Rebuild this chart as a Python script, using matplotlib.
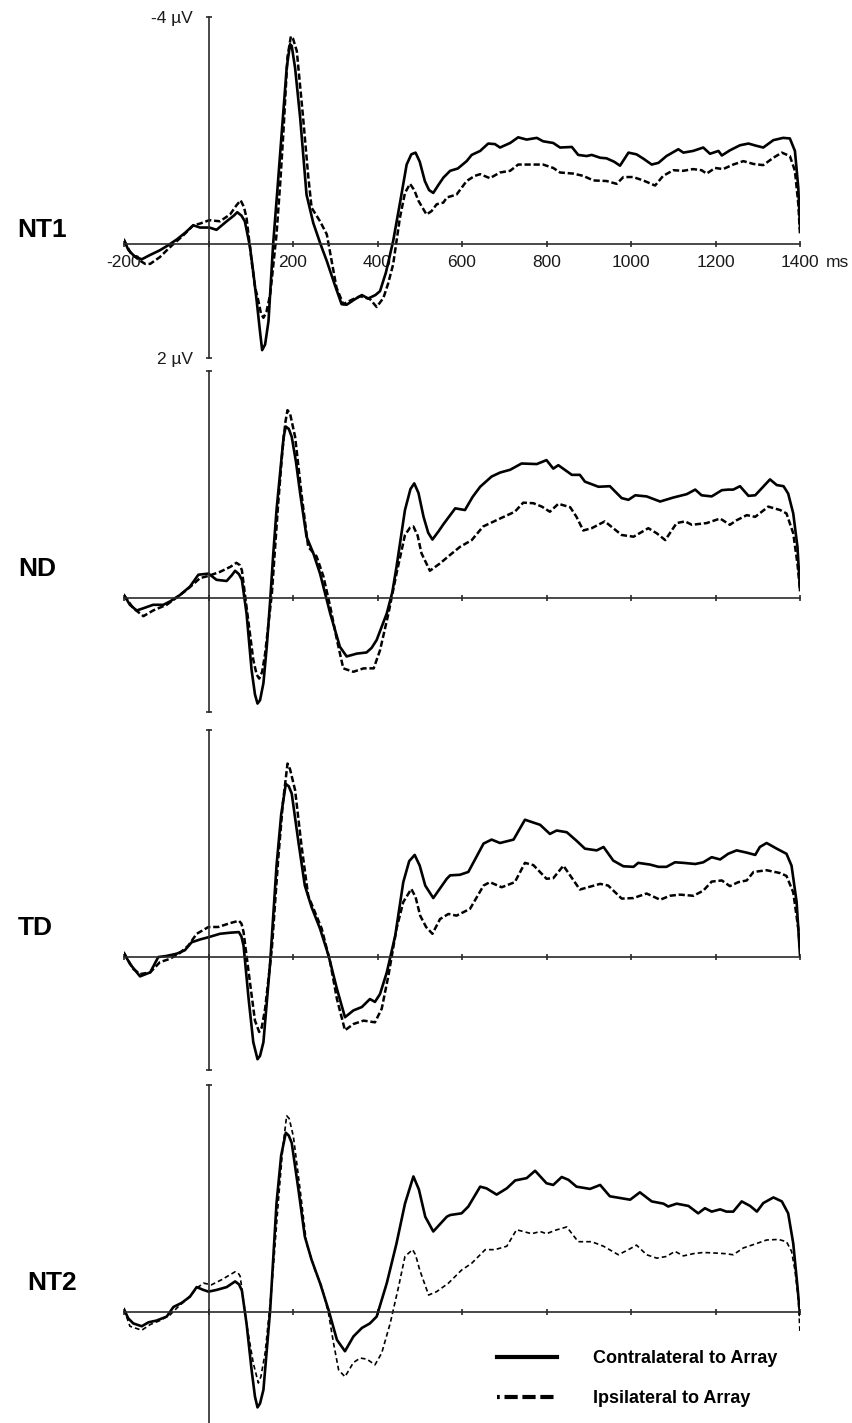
import matplotlib
matplotlib.use("Agg")
from matplotlib import pyplot as plt
from matplotlib.lines import Line2D

plt.rcParams["font.family"] = ["Liberation Sans", "DejaVu Sans"]
plt.rcParams["lines.scale_dashes"] = False

# grand averages, time in ms, amplitude in microvolts (negative plotted up)
nt1_contra_ms = [-200, -190, -175, -158, -140, -115, -95, -75, -55, -36, -20, 2, 19, 43, 60, 68, 78, 86, 98, 106,
                 114, 122, 127, 134, 142, 153, 163, 173, 185, 193, 197, 205, 217, 232, 248, 265, 280, 298, 315, 327,
                 345, 363, 378, 395, 406, 420, 437, 455, 469, 480, 490, 500, 512, 522, 532, 545, 556, 572, 590, 611,
                 623, 643, 662, 678, 690, 714, 733, 753, 777, 792, 816, 832, 860, 875, 895, 907, 927, 942, 960, 974,
                 994, 1013, 1030, 1049, 1065, 1084, 1112, 1124, 1147, 1171, 1187, 1207, 1215, 1234, 1258, 1278, 1297,
                 1313, 1337, 1360, 1376, 1388, 1396, 1400]
nt1_contra_uv = [-0.07, 0.10, 0.22, 0.27, 0.20, 0.11, 0.02, -0.08, -0.20, -0.33, -0.29, -0.29, -0.25, -0.40, -0.50,
                 -0.56, -0.50, -0.40, 0.04, 0.50, 1.00, 1.55, 1.87, 1.77, 1.36, 0.00, -0.95, -1.93, -3.10, -3.52,
                 -3.49, -3.10, -2.22, -0.87, -0.37, 0.00, 0.30, 0.70, 1.06, 1.07, 0.98, 0.90, 0.96, 0.90, 0.83, 0.50,
                 -0.05, -0.80, -1.40, -1.58, -1.61, -1.45, -1.11, -0.95, -0.90, -1.05, -1.17, -1.29, -1.33, -1.46,
                 -1.57, -1.64, -1.77, -1.76, -1.70, -1.78, -1.88, -1.84, -1.87, -1.81, -1.78, -1.70, -1.71, -1.57,
                 -1.55, -1.57, -1.52, -1.51, -1.45, -1.38, -1.61, -1.58, -1.50, -1.40, -1.43, -1.55, -1.67, -1.61,
                 -1.64, -1.70, -1.59, -1.64, -1.56, -1.65, -1.74, -1.77, -1.73, -1.70, -1.83, -1.87, -1.86, -1.64,
                 -0.99, -0.29]
nt1_ipsi_ms = [-200, -185, -165, -150, -138, -115, -100, -83, -60, -36, -20, 2, 27, 51, 66, 76, 84, 90, 102, 110,
               118, 124, 130, 137, 146, 153, 161, 170, 177, 187, 195, 200, 209, 224, 236, 244, 264, 280, 303, 319,
               340, 359, 382, 398, 414, 425, 437, 453, 465, 477, 487, 497, 516, 528, 540, 556, 564, 587, 611, 630,
               643, 666, 690, 714, 733, 761, 792, 816, 832, 864, 887, 911, 942, 966, 982, 1005, 1029, 1057, 1076,
               1100, 1124, 1147, 1167, 1179, 1199, 1218, 1242, 1266, 1290, 1313, 1337, 1357, 1376, 1388, 1396, 1400]
nt1_ipsi_uv = [-0.07, 0.15, 0.28, 0.35, 0.35, 0.23, 0.12, 0.00, -0.15, -0.33, -0.36, -0.42, -0.40, -0.52, -0.68,
               -0.77, -0.65, -0.46, 0.30, 0.75, 1.00, 1.22, 1.30, 1.20, 0.89, 0.40, -0.17, -1.10, -1.93, -3.30,
               -3.66, -3.62, -3.40, -2.22, -1.20, -0.64, -0.40, -0.17, 0.77, 1.06, 0.98, 0.92, 0.97, 1.11, 0.95,
               0.70, 0.36, -0.46, -0.90, -1.06, -0.95, -0.76, -0.52, -0.58, -0.70, -0.73, -0.82, -0.87, -1.11,
               -1.20, -1.23, -1.16, -1.26, -1.29, -1.40, -1.40, -1.40, -1.34, -1.26, -1.24, -1.20, -1.12, -1.11,
               -1.06, -1.18, -1.18, -1.12, -1.03, -1.20, -1.30, -1.29, -1.32, -1.30, -1.24, -1.34, -1.32, -1.40,
               -1.46, -1.41, -1.39, -1.52, -1.61, -1.55, -1.29, -0.70, -0.17]

nd_contra_ms = [-200, -186, -170, -154, -131, -107, -91, -68, -44, -24, 0, 19, 43, 55, 63, 72, 79, 90, 102, 110,
                116, 122, 130, 138, 146, 153, 161, 172, 178, 183, 190, 197, 207, 217, 232, 248, 264, 288, 311, 327,
                351, 374, 386, 398, 422, 435, 445, 465, 478, 487, 497, 509, 520, 530, 545, 556, 584, 607, 625, 643,
                670, 690, 714, 741, 777, 800, 816, 828, 860, 879, 891, 923, 950, 978, 994, 1010, 1037, 1069, 1100,
                1132, 1152, 1167, 1191, 1215, 1230, 1242, 1258, 1278, 1294, 1329, 1345, 1361, 1372, 1384, 1394, 1400]
nd_contra_uv = [-0.05, 0.12, 0.22, 0.18, 0.12, 0.12, 0.06, -0.05, -0.20, -0.41, -0.43, -0.32, -0.30, -0.40, -0.48,
                -0.42, -0.32, 0.27, 1.27, 1.70, 1.86, 1.80, 1.50, 0.85, 0.04, -0.75, -1.55, -2.40, -2.85, -3.02,
                -2.98, -2.84, -2.40, -1.84, -1.08, -0.79, -0.43, 0.27, 0.86, 1.03, 0.98, 0.96, 0.88, 0.74, 0.27,
                -0.10, -0.55, -1.55, -1.92, -2.02, -1.85, -1.43, -1.15, -1.03, -1.18, -1.30, -1.58, -1.55, -1.78,
                -1.96, -2.14, -2.21, -2.26, -2.37, -2.36, -2.43, -2.28, -2.34, -2.17, -2.17, -2.05, -1.96, -1.97,
                -1.76, -1.73, -1.81, -1.79, -1.70, -1.77, -1.83, -1.91, -1.81, -1.79, -1.90, -1.91, -1.91, -1.97,
                -1.80, -1.81, -2.09, -1.99, -1.97, -1.84, -1.49, -0.90, -0.14]
nd_ipsi_ms = [-200, -178, -154, -131, -99, -75, -52, -20, 0, 27, 52, 66, 74, 79, 94, 106, 114, 120, 127, 134, 150,
              165, 175, 182, 187, 193, 205, 220, 236, 256, 272, 288, 304, 319, 343, 367, 391, 406, 426, 445, 465,
              477, 485, 495, 504, 524, 548, 572, 595, 623, 650, 690, 725, 745, 769, 789, 808, 828, 856, 871, 887,
              907, 938, 958, 978, 1006, 1041, 1061, 1081, 1108, 1128, 1144, 1179, 1211, 1234, 1250, 1274, 1294,
              1325, 1353, 1368, 1384, 1394, 1400]
nd_ipsi_uv = [-0.05, 0.18, 0.32, 0.22, 0.12, -0.01, -0.14, -0.35, -0.39, -0.46, -0.55, -0.62, -0.58, -0.49, 0.39,
              1.09, 1.35, 1.42, 1.30, 0.98, -0.08, -1.67, -2.60, -3.10, -3.31, -3.25, -2.84, -1.84, -0.90, -0.73,
              -0.38, 0.15, 0.74, 1.24, 1.30, 1.24, 1.24, 0.92, 0.27, -0.43, -1.11, -1.24, -1.26, -1.10, -0.79,
              -0.48, -0.61, -0.76, -0.90, -1.02, -1.26, -1.40, -1.52, -1.68, -1.67, -1.61, -1.52, -1.66, -1.60,
              -1.43, -1.19, -1.23, -1.35, -1.23, -1.11, -1.08, -1.23, -1.14, -1.02, -1.32, -1.35, -1.29, -1.32,
              -1.40, -1.29, -1.37, -1.46, -1.43, -1.61, -1.55, -1.49, -1.14, -0.60, -0.14]

td_contra_ms = [-200, -186, -162, -138, -119, -99, -75, -56, -40, -20, 0, 27, 52, 72, 78, 83, 95, 106, 116, 122,
                130, 146, 161, 172, 183, 190, 197, 213, 228, 244, 264, 284, 304, 323, 343, 363, 382, 394, 406, 422,
                442, 461, 475, 488, 500, 513, 532, 564, 572, 595, 615, 651, 670, 690, 722, 749, 769, 785, 808, 824,
                848, 871, 891, 919, 935, 958, 982, 1006, 1017, 1045, 1065, 1084, 1104, 1124, 1152, 1171, 1191, 1211,
                1230, 1250, 1274, 1294, 1305, 1321, 1345, 1368, 1380, 1392, 1400]
td_contra_uv = [-0.06, 0.13, 0.35, 0.28, 0.01, -0.01, -0.05, -0.11, -0.25, -0.30, -0.34, -0.40, -0.42, -0.43, -0.35,
                -0.19, 0.75, 1.51, 1.81, 1.75, 1.51, 0.10, -1.60, -2.50, -3.04, -3.00, -2.87, -2.01, -1.25, -0.87,
                -0.49, -0.02, 0.57, 1.07, 0.95, 0.89, 0.75, 0.80, 0.66, 0.28, -0.37, -1.31, -1.68, -1.79, -1.60,
                -1.25, -1.03, -1.37, -1.43, -1.44, -1.49, -1.99, -2.06, -2.00, -2.06, -2.41, -2.36, -2.32, -2.16,
                -2.22, -2.19, -2.04, -1.90, -1.87, -1.93, -1.69, -1.59, -1.58, -1.65, -1.62, -1.58, -1.58, -1.66,
                -1.65, -1.63, -1.66, -1.75, -1.71, -1.81, -1.87, -1.83, -1.79, -1.93, -2.00, -1.90, -1.81, -1.60,
                -0.96, -0.02]
td_ipsi_ms = [-200, -178, -162, -138, -115, -91, -68, -48, -28, 0, 23, 52, 72, 78, 83, 98, 110, 120, 126, 134, 150,
              165, 176, 187, 193, 205, 220, 236, 252, 268, 288, 304, 323, 343, 367, 394, 410, 426, 445, 461, 480,
              490, 501, 515, 530, 548, 568, 587, 619, 651, 666, 694, 725, 749, 769, 800, 816, 840, 879, 927, 946,
              978, 1006, 1037, 1069, 1092, 1116, 1148, 1171, 1191, 1215, 1234, 1254, 1274, 1290, 1321, 1353, 1368,
              1384, 1396, 1400]
td_ipsi_uv = [-0.06, 0.22, 0.31, 0.28, 0.10, 0.04, -0.06, -0.19, -0.40, -0.52, -0.52, -0.59, -0.63, -0.58, -0.43,
              0.45, 1.13, 1.33, 1.25, 0.92, -0.14, -1.72, -2.70, -3.40, -3.30, -2.93, -1.96, -1.07, -0.78, -0.49,
              0.10, 0.75, 1.30, 1.19, 1.13, 1.16, 0.92, 0.33, -0.49, -0.96, -1.19, -1.05, -0.72, -0.52, -0.40,
              -0.66, -0.75, -0.72, -0.84, -1.25, -1.31, -1.22, -1.31, -1.65, -1.61, -1.37, -1.38, -1.60, -1.18,
              -1.28, -1.25, -1.02, -1.03, -1.11, -1.00, -1.07, -1.09, -1.07, -1.16, -1.32, -1.34, -1.24, -1.31,
              -1.34, -1.49, -1.52, -1.47, -1.42, -1.13, -0.49, -0.14]

nt2_contra_ms = [-200, -190, -178, -158, -142, -123, -99, -83, -64, -44, -28, -12, 0, 19, 43, 63, 72, 79, 90, 102,
                 110, 116, 122, 130, 146, 161, 172, 183, 190, 197, 213, 228, 244, 264, 284, 304, 323, 343, 363, 382,
                 398, 422, 445, 465, 485, 498, 513, 532, 564, 572, 599, 615, 643, 658, 682, 706, 726, 753, 773, 800,
                 816, 836, 852, 871, 903, 927, 950, 974, 998, 1021, 1049, 1077, 1088, 1108, 1136, 1159, 1175, 1191,
                 1211, 1226, 1242, 1262, 1282, 1298, 1313, 1337, 1357, 1372, 1384, 1394, 1400]
nt2_contra_uv = [-0.04, 0.12, 0.21, 0.26, 0.19, 0.16, 0.09, -0.08, -0.15, -0.26, -0.43, -0.38, -0.35, -0.38, -0.43,
                 -0.53, -0.48, -0.37, 0.21, 1.03, 1.50, 1.69, 1.62, 1.38, -0.03, -1.91, -2.75, -3.15, -3.10, -2.97,
                 -2.14, -1.32, -0.91, -0.50, -0.03, 0.50, 0.70, 0.44, 0.29, 0.21, 0.09, -0.50, -1.20, -1.90, -2.38,
                 -2.15, -1.67, -1.41, -1.67, -1.70, -1.73, -1.85, -2.20, -2.17, -2.06, -2.17, -2.31, -2.35, -2.48,
                 -2.26, -2.23, -2.37, -2.32, -2.20, -2.16, -2.23, -2.03, -2.00, -1.97, -2.10, -1.94, -1.90, -1.85,
                 -1.90, -1.86, -1.73, -1.82, -1.76, -1.80, -1.76, -1.76, -1.94, -1.86, -1.76, -1.91, -2.01, -1.94,
                 -1.73, -1.20, -0.44, 0.06]
nt2_ipsi_ms = [-200, -186, -158, -138, -115, -91, -71, -52, -28, -12, 7, 31, 63, 70, 75, 90, 106, 118, 124, 134,
               150, 165, 176, 185, 191, 201, 217, 232, 252, 268, 284, 296, 308, 323, 343, 359, 375, 394, 410, 430,
               450, 465, 483, 490, 500, 521, 540, 568, 599, 623, 655, 678, 706, 729, 745, 765, 785, 800, 820, 848,
               875, 907, 935, 970, 994, 1013, 1037, 1061, 1084, 1104, 1124, 1148, 1171, 1199, 1222, 1242, 1266,
               1298, 1321, 1349, 1368, 1380, 1388, 1396, 1400]
nt2_ipsi_uv = [-0.04, 0.26, 0.33, 0.23, 0.16, 0.06, -0.09, -0.21, -0.41, -0.50, -0.47, -0.56, -0.70, -0.68, -0.62,
               0.21, 0.91, 1.26, 1.15, 0.73, -0.44, -1.91, -2.90, -3.45, -3.40, -3.08, -2.14, -1.20, -0.73, -0.44,
               0.03, 0.56, 1.03, 1.15, 0.90, 0.82, 0.84, 0.94, 0.73, 0.21, -0.44, -0.97, -1.09, -1.00, -0.73, -0.29,
               -0.35, -0.50, -0.73, -0.85, -1.09, -1.09, -1.15, -1.44, -1.41, -1.37, -1.41, -1.37, -1.43, -1.49,
               -1.23, -1.23, -1.15, -1.00, -1.09, -1.17, -1.00, -0.94, -0.97, -1.06, -0.98, -1.02, -1.04, -1.03,
               -1.02, -1.00, -1.12, -1.20, -1.26, -1.27, -1.23, -1.06, -0.73, -0.21, 0.38]

panel_names = ["NT1", "ND", "TD", "NT2"]
x_ticks = [-200, 0, 200, 400, 600, 800, 1000, 1200, 1400]
x_tick_labels = ["-200", "", "200", "400", "600", "800", "1000", "1200", "1400"]
y_ticks = [-4, 2]
y_tick_labels = ["-4 µV", "2 µV"]
legend_labels = ["Contralateral to Array", "Ipsilateral to Array"]

panels = [
    (nt1_contra_ms, nt1_contra_uv, nt1_ipsi_ms, nt1_ipsi_uv),
    (nd_contra_ms, nd_contra_uv, nd_ipsi_ms, nd_ipsi_uv),
    (td_contra_ms, td_contra_uv, td_ipsi_ms, td_ipsi_uv),
    (nt2_contra_ms, nt2_contra_uv, nt2_ipsi_ms, nt2_ipsi_uv),
]

W, H = 852, 1423
fig = plt.figure(figsize=(W / 100, H / 100), dpi=100, facecolor="white")

axis_col = "#2a2a2a"
text_col = "#1a1a1a"
panel_tops = [17, 371, 729.5, 1084.5]     # pixel row of the -4 µV tick
label_pos = [(17, 230), (18, 569), (18, 928), (27, 1283)]
panel_h = 340.5

for i, (c_ms, c_uv, i_ms, i_uv) in enumerate(panels):
    top = panel_tops[i]
    ax = fig.add_axes([124 / W, 1 - (top + panel_h) / H, 676 / W, panel_h / H])
    ax.patch.set_visible(False)

    ax.plot(c_ms, c_uv, color="black", lw=1.9, solid_joinstyle="round")
    if i < 3:
        ax.plot(i_ms, i_uv, color="black", lw=1.8, linestyle=(0, (4.5, 2.0)))
    else:
        ax.plot(i_ms, i_uv, color="black", lw=1.2, linestyle=(0, (3.4, 2.2)))

    ax.set_xlim(-200, 1400)
    ax.set_ylim(2, -4)
    for s in ["top", "right"]:
        ax.spines[s].set_visible(False)
    ax.spines["left"].set_position(("data", 0))
    ax.spines["bottom"].set_position(("data", 0))
    for s in ["left", "bottom"]:
        ax.spines[s].set_linewidth(1.2)
        ax.spines[s].set_color(axis_col)

    ax.set_xticks(x_ticks)
    ax.set_yticks(y_ticks)
    ax.tick_params(direction="inout", length=5, width=1.2, color=axis_col,
                   labelsize=12.5, labelcolor=text_col)
    ax.tick_params(axis="x", pad=5.5)
    ax.tick_params(axis="y", pad=9)
    if i == 0:
        ax.set_xticklabels(x_tick_labels)
        ax.set_yticklabels(y_tick_labels)
        ax.annotate("ms", xy=(1400, 0), xytext=(18.7, -8.0), textcoords="offset points",
                    ha="left", va="top", fontsize=12.5, color=text_col)
    else:
        ax.set_xticklabels([])
        ax.set_yticklabels([])

    lx, ly = label_pos[i]
    fig.text(lx / W, 1 - ly / H, panel_names[i], fontsize=19, fontweight="bold",
             ha="left", va="center")

# legend in the lower right corner
handles = [
    Line2D([], [], color="black", lw=3.0),
    Line2D([], [], color="black", lw=3.0, linestyle=(7.5, (9.5, 3.4))),
]
fig.legend(handles, legend_labels, loc="upper left",
           bbox_to_anchor=(497 / W, 1 - 1350 / H), frameon=False,
           prop={"size": 13, "weight": "bold"}, handlelength=3.32,
           handletextpad=2.0, labelspacing=1.29, borderpad=0, borderaxespad=0)

fig.savefig("out.png", dpi=100, facecolor="white")
